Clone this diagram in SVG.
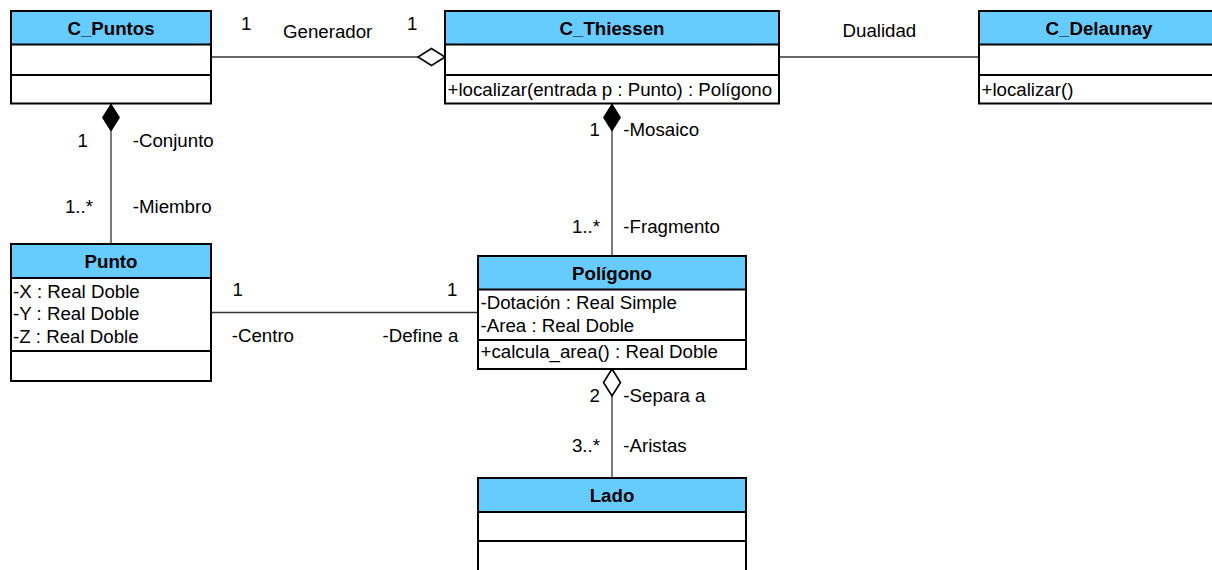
<svg xmlns="http://www.w3.org/2000/svg" width="1212" height="570" viewBox="0 0 1212 570">
<style>
text{font-family:"Liberation Sans",Arial,sans-serif;font-size:18.7px;fill:#000}
.hdr{font-weight:bold;text-anchor:middle}
.end{text-anchor:end}
.box{fill:#fff;stroke:#000;stroke-width:2}
.head{fill:#66ccff;stroke:#000;stroke-width:2}
.div{stroke:#000;stroke-width:2}
.conn{stroke:#333;stroke-width:1.3;fill:none}
</style>
<defs>
<marker id="dHollow" markerUnits="userSpaceOnUse" markerWidth="30" markerHeight="20" viewBox="-1 -10 30 20" refX="0" refY="0" orient="auto" overflow="visible">
<path d="M0,0 L13.5,-8.5 L27,0 L13.5,8.5 Z" fill="#fff" stroke="#000" stroke-width="1.6"/>
</marker>
<marker id="dFilled" markerUnits="userSpaceOnUse" markerWidth="30" markerHeight="20" viewBox="-1 -10 30 20" refX="0" refY="0" orient="auto" overflow="visible">
<path d="M0,0 L13.5,-8.5 L27,0 L13.5,8.5 Z" fill="#000" stroke="#000" stroke-width="1"/>
</marker>
</defs>

<g id="connectors">
<line class="conn" x1="445" y1="57" x2="211" y2="57" marker-start="url(#dHollow)"/>
<line class="conn" x1="779" y1="57" x2="979" y2="57"/>
<line class="conn" x1="111" y1="104" x2="111" y2="244" marker-start="url(#dFilled)"/>
<line class="conn" x1="612" y1="104" x2="612" y2="256" marker-start="url(#dFilled)"/>
<line class="conn" x1="211" y1="312.5" x2="478" y2="312.5"/>
<line class="conn" x1="612" y1="369" x2="612" y2="478" marker-start="url(#dHollow)"/>
<text x="241" y="29.5">1</text>
<text x="283" y="38.3">Generador</text>
<text x="407" y="29.5">1</text>
<text x="842.5" y="37">Dualidad</text>
<text x="88" y="146.7" class="end">1</text>
<text x="132.7" y="146.7">-Conjunto</text>
<text x="93" y="213" class="end">1..*</text>
<text x="132.7" y="213">-Miembro</text>
<text x="600" y="135.7" class="end">1</text>
<text x="623.3" y="135.7">-Mosaico</text>
<text x="600" y="233.3" class="end">1..*</text>
<text x="623.3" y="233.3">-Fragmento</text>
<text x="232.5" y="296">1</text>
<text x="457.5" y="296" class="end">1</text>
<text x="231.7" y="341.7">-Centro</text>
<text x="458.3" y="341.7" class="end">-Define a</text>
<text x="600" y="401.7" class="end">2</text>
<text x="623.3" y="401.7">-Separa a</text>
<text x="600" y="451.7" class="end">3..*</text>
<text x="623.3" y="451.7">-Aristas</text>
</g>

<g id="C_Puntos">
<rect class="box" x="11" y="11" width="200" height="92.5"/>
<rect class="head" x="11" y="11" width="200" height="33.5"/>
<line class="div" x1="11" y1="75" x2="211" y2="75"/>
<text class="hdr" x="111" y="34.5">C_Puntos</text>
</g>

<g id="C_Thiessen">
<rect class="box" x="445" y="11" width="334" height="92.5"/>
<rect class="head" x="445" y="11" width="334" height="33.5"/>
<line class="div" x1="445" y1="75" x2="779" y2="75"/>
<text class="hdr" x="612" y="34.5">C_Thiessen</text>
<text x="447.5" y="96">+localizar(entrada p : Punto) : Polígono</text>
</g>

<g id="C_Delaunay">
<rect class="box" x="979" y="11" width="240" height="92.5"/>
<rect class="head" x="979" y="11" width="240" height="33.5"/>
<line class="div" x1="979" y1="75" x2="1219" y2="75"/>
<text class="hdr" x="1099" y="34.5">C_Delaunay</text>
<text x="981.5" y="96">+localizar()</text>
</g>

<g id="Punto">
<rect class="box" x="11" y="244" width="200" height="137"/>
<rect class="head" x="11" y="244" width="200" height="34"/>
<line class="div" x1="11" y1="351" x2="211" y2="351"/>
<text class="hdr" x="111" y="267.5">Punto</text>
<text x="13" y="298.3">-X : Real Doble</text>
<text x="13" y="320.3">-Y : Real Doble</text>
<text x="13" y="343">-Z : Real Doble</text>
</g>

<g id="Poligono">
<rect class="box" x="478" y="256" width="268" height="113"/>
<rect class="head" x="478" y="256" width="268" height="33.5"/>
<line class="div" x1="478" y1="340" x2="746" y2="340"/>
<text class="hdr" x="612" y="279.5">Polígono</text>
<text x="480.5" y="309.3">-Dotación : Real Simple</text>
<text x="480.5" y="331.7">-Area : Real Doble</text>
<text x="480.5" y="358.3">+calcula_area() : Real Doble</text>
</g>

<g id="Lado">
<rect class="box" x="478" y="478" width="268" height="120"/>
<rect class="head" x="478" y="478" width="268" height="34"/>
<line class="div" x1="478" y1="541" x2="746" y2="541"/>
<text class="hdr" x="612" y="501.5">Lado</text>
</g>
</svg>
